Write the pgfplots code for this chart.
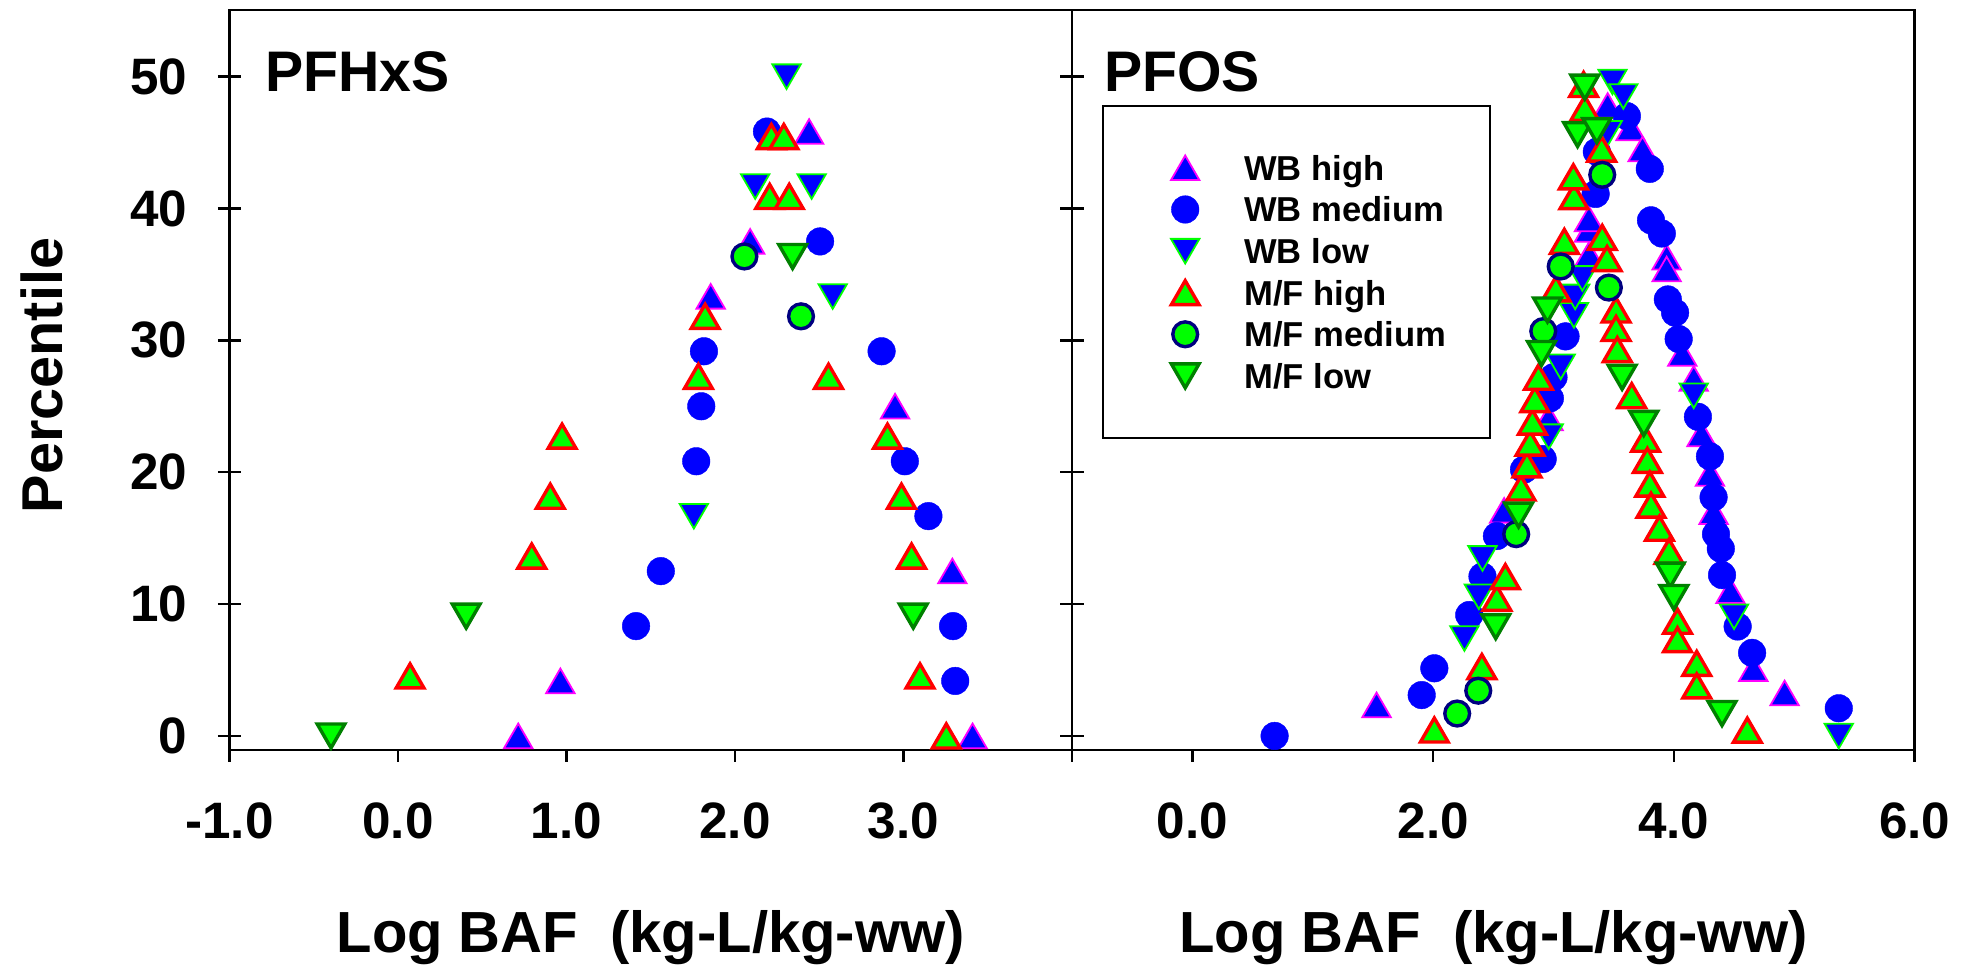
\documentclass[border=0pt]{standalone}
\usepackage{pgfplots}
\pgfplotsset{compat=1.18}
\usepackage{fontspec}
\setmainfont{Liberation Sans}
\definecolor{lime}{RGB}{0,255,0}
\definecolor{navyb}{RGB}{0,0,128}
\definecolor{dkgreen}{RGB}{0,128,0}
\definecolor{mag}{RGB}{255,0,255}
\definecolor{bl}{RGB}{0,0,255}
\definecolor{rd}{RGB}{255,0,0}
\pgfplotsset{
  legimg/.style={legend image code/.code={%
    \path[draw=none, fill=none] (-20.5pt,-3.1pt) rectangle (5pt,3.1pt);
    \begin{pgfinterruptboundingbox}\draw[##1] plot coordinates {(0pt,0pt)};\end{pgfinterruptboundingbox}}},
  wbhigh/.style={only marks, mark=triangle*, mark size=4.1pt, mark options={solid, fill=bl, draw=mag, line width=0.45pt, yshift=-1pt}, legimg},
  wbmed/.style={only marks, mark=*, mark size=3.45pt, mark options={solid, fill=bl, draw=bl, line width=0.1pt}, legimg},
  wblow/.style={only marks, mark=triangle*, mark size=4.1pt, mark options={solid, fill=bl, draw=lime, line width=0.45pt, yshift=1pt, rotate=180}, legimg},
  mfhigh/.style={only marks, mark=triangle*, mark size=4.0pt, mark options={solid, fill=lime, draw=rd, line width=0.85pt, yshift=-1pt}, legimg},
  mfmed/.style={only marks, mark=*, mark size=3.1pt, mark options={solid, fill=lime, draw=navyb, line width=0.85pt}, legimg},
  mflow/.style={only marks, mark=triangle*, mark size=4.0pt, mark options={solid, fill=lime, draw=dkgreen, line width=0.85pt, yshift=1pt, rotate=180}, legimg},
  common/.style={
    anchor=south west, scale only axis, width=210.65pt, height=184.95pt,
    ymin=-1.05, ymax=55.05,
    axis line style={line width=0.6pt, black},
    tick style={line width=0.6pt, black},
    tick align=outside, major tick length=3pt,
    xtick pos=left,
    ytick=\empty,
    extra y ticks={0,10,20,30,40,50},
    extra y tick style={tick align=center, major tick length=5.8pt},
    tick label style={font=\bfseries\fontsize{12.8}{15}\selectfont, inner sep=0pt},
    xticklabel style={anchor=north, yshift=-10pt},
    yticklabel style={anchor=east, xshift=-7.5pt},
    xlabel={Log BAF~~(kg-L/kg-ww)},
    xlabel style={font=\bfseries\fontsize{14.5}{17}\selectfont, at={(axis description cs:0.5,-0.2745)}, anchor=base, inner sep=0pt},
  },
}
\begin{document}
\begin{tikzpicture}
\path[use as bounding box] (0,0) rectangle (491.5pt,243.25pt);
\begin{axis}[common, at={(57.35pt,55.8pt)},
  xmin=-1, xmax=4, xtick={-1,0,1,2,3,4}, xticklabels={-1.0,0.0,1.0,2.0,3.0,{}},
  ytick pos=both,
  extra y tick labels={0,10,20,30,40,50},
  ylabel={Percentile},
  ylabel style={font=\bfseries\fontsize{14.4}{17}\selectfont, at={(axis description cs:-0.223,0.506)}, anchor=center, inner sep=0pt},
]
\addplot[wbhigh] coordinates {(2.44,45.83) (2.09,37.5) (1.856,33.33) (2.95,25) (3.29,12.5) (0.964,4.17) (0.714,0) (3.41,0)};
\addplot[wbmed] coordinates {(2.19,45.83) (2.505,37.5) (1.816,29.17) (2.87,29.17) (1.80,25) (1.77,20.83) (3.008,20.83) (3.148,16.67) (1.56,12.5) (1.413,8.33) (3.294,8.33) (3.307,4.17)};
\addplot[wblow] coordinates {(2.306,50) (2.12,41.67) (2.455,41.67) (2.58,33.33) (1.756,16.67)};
\addplot[mfhigh] coordinates {(2.216,45.45) (2.29,45.45) (2.206,40.91) (2.322,40.91) (1.823,31.82) (1.783,27.27) (2.555,27.27) (0.974,22.73) (2.905,22.73) (0.904,18.18) (2.988,18.18) (0.794,13.64) (3.048,13.64) (0.072,4.55) (3.098,4.55) (3.254,0)};
\addplot[mfmed] coordinates {(2.056,36.36) (2.392,31.82)};
\addplot[mflow] coordinates {(2.342,36.36) (0.405,9.09) (3.058,9.09) (-0.397,0)};
\node[anchor=base west, inner sep=0pt, font=\bfseries\fontsize{14.3}{17}\selectfont] at (rel axis cs:0.042,0.890) {PFHxS};
\end{axis}
\begin{axis}[common, at={(268pt,55.8pt)},
  xmin=-1, xmax=6, xtick={0,2,4,6}, xticklabels={0.0,2.0,4.0,6.0},
  ytick pos=left,
  extra y tick labels={{},{},{},{},{},{}},
  legend cell align=left,
  legend style={at={(0.0356,0.872)}, anchor=north west, draw=black, line width=0.6pt, fill=white,
    inner xsep=0pt, inner ysep=10.3pt, row sep=0pt,
    font=\bfseries\fontsize{8.65}{10}\selectfont,
    nodes={draw=none, inner sep=0pt, text height=8.3pt, text depth=2.1pt},
    /tikz/every odd column/.append style={column sep=9.75pt},
    /tikz/every even column/.append style={column sep=0pt}},
]
\addplot[wbhigh] coordinates {(1.53,2.35) (2.59,17.1) (2.96,24.1) (3.295,36.5) (3.295,38.4) (3.295,39.2) (3.45,47.8) (3.64,46.1) (3.74,44.5) (3.94,36.3) (3.94,35.4) (4.07,29.0) (4.165,27.1) (4.23,22.9) (4.30,19.9) (4.33,17.0) (4.47,11.0) (4.66,5.1) (4.92,3.25)};
\addlegendentry{WB high}
\addplot[wbmed] coordinates {(0.683,0) (1.905,3.1) (2.01,5.13) (2.30,9.17) (2.41,12.1) (2.53,15.16) (2.755,20.2) (2.91,21.0) (2.97,25.6) (3.00,27.2) (3.10,30.3) (3.35,41.1) (3.36,44.3) (3.61,47.0) (3.80,43.0) (3.81,39.1) (3.90,38.1) (3.95,33.1) (4.01,32.1) (4.04,30.1) (4.20,24.2) (4.30,21.2) (4.33,18.1) (4.35,15.3) (4.39,14.2) (4.40,12.2) (4.53,8.3) (4.65,6.3) (5.37,2.1)};
\addlegendentry{WB medium}
\addplot[wblow] coordinates {(2.26,7.4) (2.38,10.56) (2.41,13.47) (2.96,22.7) (3.06,28.0) (3.17,31.9) (3.18,33.3) (3.24,34.7) (3.45,45.7) (3.49,49.6) (3.58,48.5) (4.165,25.8) (4.50,9.05) (5.37,0)};
\addlegendentry{WB low}
\addplot[mfhigh] coordinates {(2.01,0.45) (2.405,5.26) (2.53,10.44) (2.60,12.08) (2.73,18.8) (2.78,20.55) (2.805,22.2) (2.825,23.8) (2.845,25.5) (2.875,27.2) (3.02,33.9) (3.09,37.5) (3.17,40.9) (3.165,42.4) (3.26,47.6) (3.25,49.4) (3.40,44.5) (3.405,37.8) (3.445,36.2) (3.52,32.3) (3.52,30.9) (3.53,29.3) (3.65,25.8) (3.765,22.5) (3.78,20.9) (3.80,19.1) (3.81,17.5) (3.88,15.75) (3.96,14.0) (4.03,8.7) (4.03,7.3) (4.19,5.5) (4.19,3.8) (4.61,0.44)};
\addlegendentry{M/F high}
\addplot[mfmed] coordinates {(2.20,1.7) (2.375,3.43) (2.69,15.3) (2.915,30.7) (3.06,35.6) (3.405,42.55) (3.46,34.0)};
\addlegendentry{M/F medium\hspace*{11pt}}
\addplot[mflow] coordinates {(2.52,8.29) (2.71,16.75) (2.90,29.0) (2.95,32.3) (3.20,45.6) (3.36,45.9) (3.26,49.2) (3.57,27.2) (3.75,23.7) (3.97,12.2) (4.00,10.5) (4.40,1.7)};
\addlegendentry{M/F low}
\node[anchor=base west, inner sep=0pt, font=\bfseries\fontsize{14.3}{17}\selectfont] at (rel axis cs:0.037,0.890) {PFOS};
\end{axis}
\end{tikzpicture}
\end{document}
